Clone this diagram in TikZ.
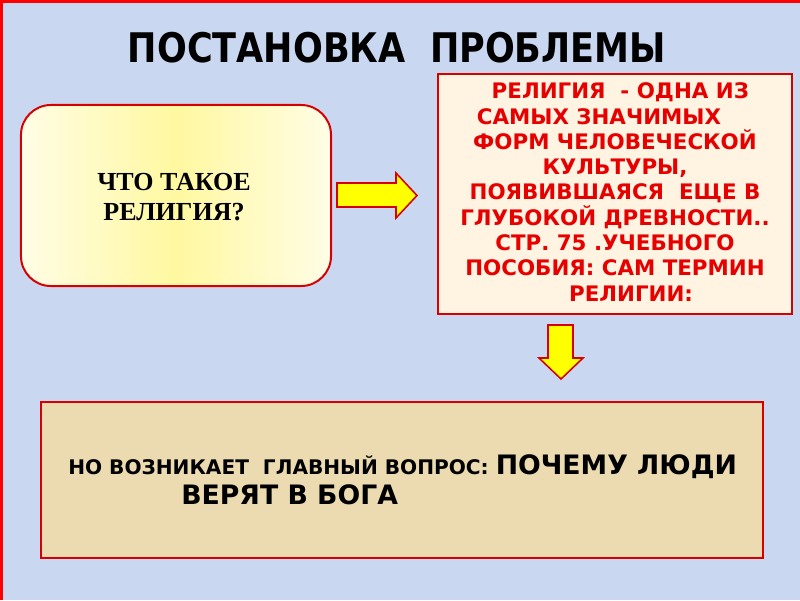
\documentclass[tikz,border=0pt]{standalone}
\usepackage{fontspec}
\setmainfont{Liberation Serif}
\newfontfamily\titlefont{DejaVu Sans}[FakeStretch=0.86]
\newfontfamily\verdfont{DejaVu Sans}
\definecolor{bgcol}{RGB}{201,215,241}
\definecolor{frame}{RGB}{255,0,0}
\definecolor{boxred}{RGB}{215,0,0}
\definecolor{textred}{RGB}{230,0,0}
\definecolor{cream}{RGB}{255,243,226}
\definecolor{tan}{RGB}{236,219,176}
\definecolor{ypale}{RGB}{255,253,230}
\definecolor{ymid}{RGB}{255,248,160}
\definecolor{ayellow}{RGB}{255,255,0}
\tikzset{
  boxline/.style={draw=boxred, line width=1.4pt},
  blockarrow/.style={fill=ayellow, draw=boxred, line width=1.1pt, line join=miter},
}
\begin{document}
\begin{tikzpicture}[x=0.025cm,y=-0.025cm]
\useasboundingbox (0,0) rectangle (800,600);
\fill[bgcol] (0,0) rectangle (800,600);
\draw[frame, line width=2.2pt] (1.5,600) -- (1.5,1.5) -- (800,1.5);
% title
\node[font=\titlefont\bfseries\fontsize{29}{34}\selectfont, inner sep=0pt] (title) at (397,48) {ПОСТАНОВКА\ \ ПРОБЛЕМЫ};
% left box
\node[boxline, rounded corners=0.75cm, minimum width=7.75cm, minimum height=4.525cm,
      left color=ypale, right color=ypale, middle color=ymid] (left) at (176,195.5) {};
\node[font=\bfseries\fontsize{18.5}{21}\selectfont, align=center, inner sep=0pt] (lefttext) at (174,197)
  {ЧТО ТАКОЕ\\РЕЛИГИЯ?};
% right box
\node[boxline, fill=cream, minimum width=8.85cm, minimum height=6cm] (right) at (615,194) {};
\node[font=\verdfont\bfseries\fontsize{15.2}{18}\selectfont, text=textred, align=center, inner sep=0pt] (righttext) at (615,192)
  {\hspace*{0.5em}РЕЛИГИЯ\ \ - ОДНА ИЗ\\
   САМЫХ ЗНАЧИМЫХ\hspace*{1.5em}\mbox{}\\
   ФОРМ ЧЕЛОВЕЧЕСКОЙ\\
   КУЛЬТУРЫ,\\
   ПОЯВИВШАЯСЯ\ \ ЕЩЕ В\\
   ГЛУБОКОЙ ДРЕВНОСТИ..\\
   СТР. 75 .УЧЕБНОГО\\
   ПОСОБИЯ: САМ ТЕРМИН\\
   \hspace*{1.5em}РЕЛИГИИ:};
% bottom box
\node[boxline, fill=tan, minimum width=18.05cm, minimum height=3.9cm] (bottom) at (402,480) {};
\node[anchor=base west, inner sep=0pt, font=\verdfont\bfseries] (q1) at (68,474)
  {{\fontsize{14.3}{17}\selectfont НО ВОЗНИКАЕТ\ \ ГЛАВНЫЙ ВОПРОС: }{\fontsize{19}{23}\selectfont ПОЧЕМУ ЛЮДИ}};
\node[anchor=base west, inner sep=0pt, font=\verdfont\bfseries\fontsize{19}{23}\selectfont] (q2) at (181,504)
  {ВЕРЯТ В БОГА};
% arrows
\draw[blockarrow] (337,183) -- (396,183) -- (396,173) -- (417,195.5) -- (396,218) -- (396,207) -- (337,207) -- cycle;
\draw[blockarrow] (548,325) -- (573,325) -- (573,358) -- (583,358) -- (561,379) -- (539,358) -- (548,358) -- cycle;
\end{tikzpicture}
\end{document}
